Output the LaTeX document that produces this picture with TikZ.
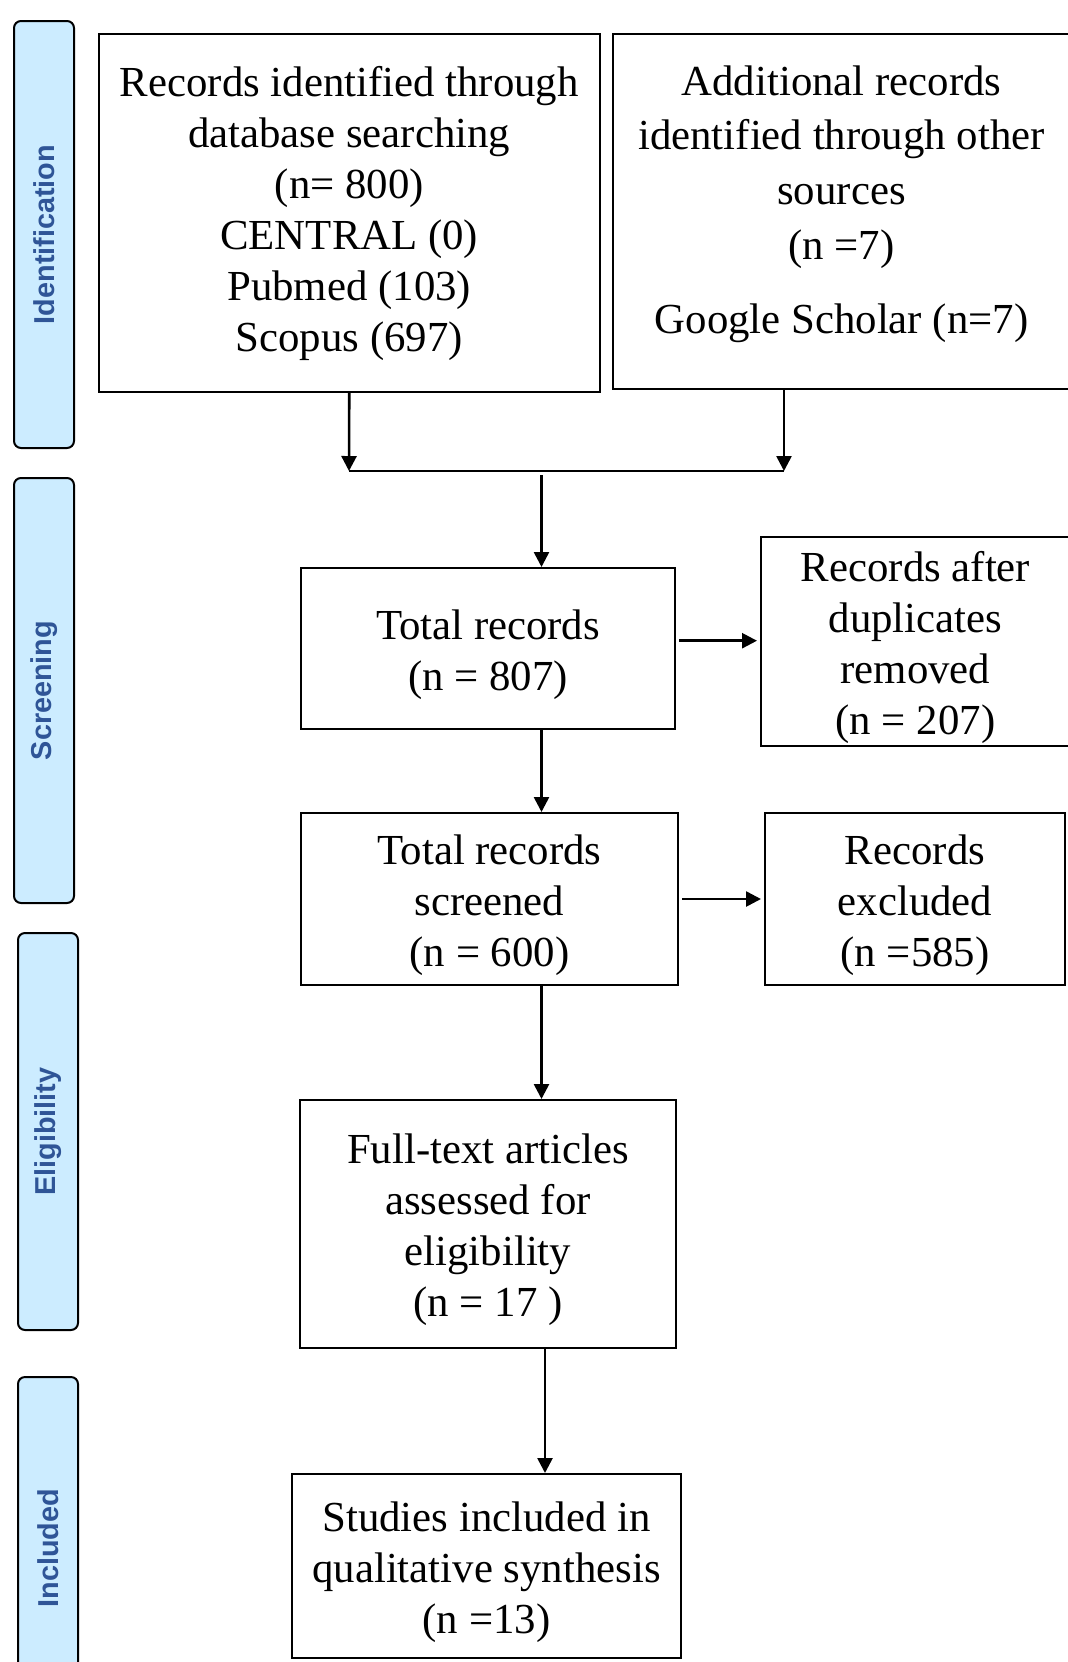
\documentclass[tikz,border=0pt]{standalone}
\usepackage{fontspec}
\setmainfont{Liberation Serif}
\setsansfont{Liberation Sans}
\usepackage{tikz}
\usetikzlibrary{arrows.meta}
\definecolor{phasefill}{RGB}{204,236,255}
\definecolor{phasetext}{RGB}{47,85,151}
% raises the top of a first line
\newcommand{\toproom}{\rule{0pt}{21pt}}

\begin{document}
\begin{tikzpicture}[
    x=0.5pt, y=-0.5pt,
    >={Triangle[length=7.5pt, width=7.5pt]},
    recbox/.style={
        draw,
        line width=1pt,
        align=center,
        inner sep=0pt,
        font=\fontsize{21.4}{25.5}\selectfont
    },
    phase/.style={
        draw,
        line width=1pt,
        fill=phasefill,
        text=phasetext,
        rounded corners=3.5pt,
        rotate=90,
        minimum height=30pt,
        inner sep=0pt,
        font=\sffamily\bfseries\fontsize{14.4}{17}\selectfont
    },
    flow/.style={
        ->,
        line width=1.3pt
    }
]

\path[use as bounding box, fill=white] (0,0) rectangle (1068,1662);

% ---------------- PHASES ----------------

\node[phase, minimum width=213.5pt] (ident) at (44,234.5) {Identification};
\node[phase, minimum width=212.5pt] (screen) at (44,690.5) {Screening};
\node[phase, minimum width=198.5pt] (elig) at (48,1131.5) {Eligibility};
\node[phase, minimum width=171pt] (incl) at (48,1548) {Included};

% ---------------- IDENTIFICATION ----------------

\node[
    recbox,
    minimum width=250.75pt,
    minimum height=179pt
] (dbrec) at (349.25,213) {Records identified through\\database searching\\(n= 800)\\CENTRAL (0)\\Pubmed (103)\\Scopus (697)};

\node[
    recbox,
    minimum width=228.5pt,
    minimum height=177.5pt,
    font=\fontsize{21.4}{27.3}\selectfont
] (othrec) at (841.5,211.5) {Additional records\\identified through other\\sources\\(n =7)\\[10pt]Google Scholar (n=7)\rule[-11.8pt]{0pt}{11.8pt}};

% Junction
\coordinate (jl) at (349,471);
\coordinate (jr) at (784,471);
\coordinate (jm) at (541.5,475);
\coordinate (jn) at (545,1348);

\draw[flow] (dbrec.south) -- (jl);
\draw[flow] (jr |- othrec.south) -- (jr);
\draw[line width=1.3pt] (jl) -- (jr);

% ---------------- SCREENING ----------------

\node[
    recbox,
    minimum width=187pt,
    minimum height=80.5pt
] (total) at (488,648.5) {\toproom Total records\\(n = 807)};

\node[
    recbox,
    minimum width=154.5pt,
    minimum height=104.5pt
] (dedup) at (915.5,641.5) {\toproom Records after\\duplicates\\removed\\(n = 207)};

\node[
    recbox,
    minimum width=188.5pt,
    minimum height=86pt
] (screened) at (489.5,899) {\toproom Total records\\screened\\(n = 600)};

\node[
    recbox,
    minimum width=150pt,
    minimum height=86pt
] (excluded) at (915,899) {\toproom Records\\excluded\\(n =585)};

\draw[flow] (jm) -- (jm |- total.north);

\coordinate (totout) at ([xshift=1.5pt, yshift=3.9pt]total.east);
\draw[flow, shorten >=1.5pt] (totout) -- (totout -| dedup.west);

\draw[flow] (jm |- total.south) -- (jm |- screened.north);
\draw[flow, shorten >=1.5pt] ([xshift=1.5pt]screened.east) -- (excluded.west);

% ---------------- ELIGIBILITY ----------------

\node[
    recbox,
    minimum width=188pt,
    minimum height=124pt
] (fulltext) at (488,1224) {\toproom Full-text articles\\assessed for\\eligibility\\(n = 17 )};

\draw[flow] (jm |- screened.south) -- (jm |- fulltext.north);

% ---------------- INCLUDED ----------------

\node[
    recbox,
    minimum width=194.5pt,
    minimum height=92pt
] (studies) at (486.5,1566) {\toproom Studies included in\\qualitative synthesis\\(n =13)};

\draw[flow] (jn) -- (jn |- studies.north);

\end{tikzpicture}
\end{document}
